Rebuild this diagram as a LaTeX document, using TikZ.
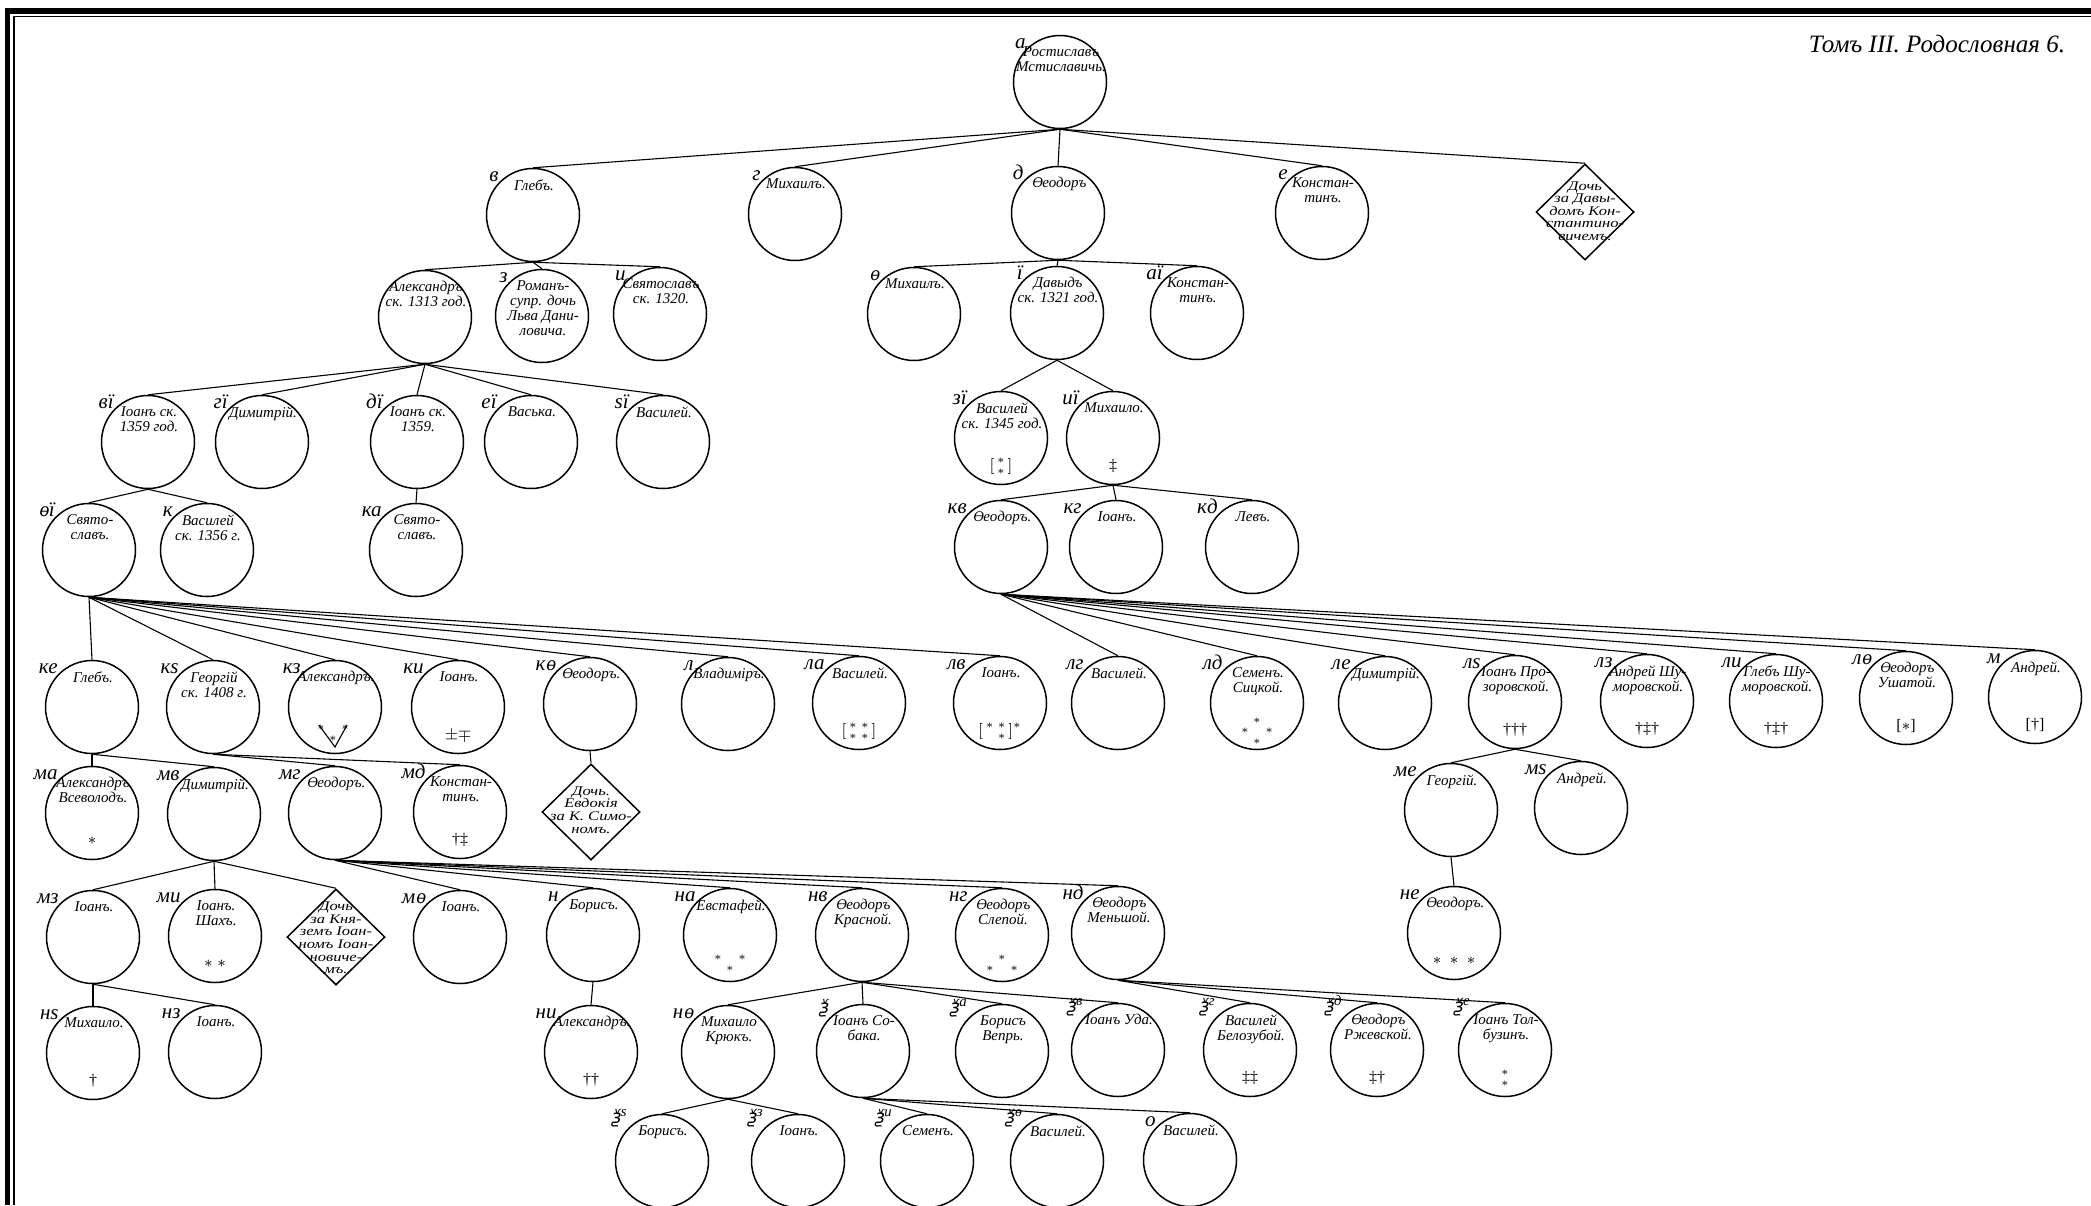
\documentclass[tikz,border=0pt]{standalone}
\usepackage{fontspec}
\usepackage{amsmath}
\setmainfont{Liberation Serif}
\newfontfamily\oldf{DejaVu Serif}[Scale=0.88,FakeSlant=0.18]
\newfontfamily\ksif{DejaVu Sans}[Scale=0.9,FakeSlant=0.18]
\newfontfamily\widef{Liberation Serif}[FakeStretch=1.25]
\usetikzlibrary{shapes.geometric,calc}
\newcommand\myFita{{\oldf\upshape Ѳ}}
\newcommand\myfita{{\oldf\upshape ѳ}}
\newcommand\myksi{{\ksif\upshape ѯ}}
\newcommand\brtwo{$\left[\begin{smallmatrix}*\\ *\end{smallmatrix}\right]$}
\newcommand\brfour{$\left[\begin{smallmatrix}*&*\\ *&*\end{smallmatrix}\right]$}
\newcommand\brthree{$\left[\begin{smallmatrix}*&*\\ &*\end{smallmatrix}\right]^{*}$}
\newcommand\fourstar{$\begin{smallmatrix}&*&\\ *&&*\\ &*&\end{smallmatrix}$}
\newcommand\threestar{$\begin{smallmatrix}*&&*\\ &*&\end{smallmatrix}$}
\newcommand\threestarb{$\begin{smallmatrix}&*&\\ *&&*\end{smallmatrix}$}
\newcommand\twostack{$\begin{smallmatrix}*\\ *\end{smallmatrix}$}
\newcommand\pp[5]{%
  \node[pc] (#1) at (#2) {};
  \node[lab] at ($(#1.center)+(-34,-33)$) {#3};
  \node[nm] at ($(#1.center)+(1,-36)$) {#4};
  \node[sy] at ($(#1.center)+(0,28)$) {#5};
}
\begin{document}
\begin{tikzpicture}[x=0.5pt,y=-0.5pt,
  pc/.style={circle,draw,line width=0.75pt,minimum size=46.5pt,inner sep=0pt},
  dm/.style={diamond,draw,line width=0.75pt,minimum width=49pt,minimum height=48pt,inner sep=0pt},
  lab/.style={anchor=south east,inner sep=0pt,font=\fontsize{10.5}{11}\selectfont\itshape},
  nm/.style={anchor=north,inner sep=0pt,align=center,font=\fontsize{7.5}{7.5}\selectfont\itshape},
  dtx/.style={inner sep=0pt,align=center,font=\widef\fontsize{6.6}{6.3}\selectfont\itshape},
  sy/.style={inner sep=0pt,font=\fontsize{8}{8}\selectfont},
  ln/.style={line width=0.55pt},
  ttl/.style={inner sep=0pt,font=\fontsize{12.5}{13}\selectfont\itshape}]
\useasboundingbox (0,0) rectangle (2091,1205);
\fill[white] (0,0) rectangle (2091,1205);
% frame
\draw[line width=2.6pt] (7.5,1205) -- (7.5,11) -- (2091,11);
\draw[line width=0.6pt] (14,1205) -- (14,16.5) -- (2091,16.5);
\node[ttl] (title) at (1937,44) {Томъ III. Родословная 6.};
% row 1-2
\pp{n1}{1060,82}{а}{Ростиславъ\\Мстиславичь.}{}
\pp{n2}{533,215}{в}{Глебъ.}{}
\pp{n3}{795,214}{г}{Михаилъ.}{}
\pp{n4}{1058,213}{д}{\myFita еодоръ}{}
\pp{n5}{1322,213}{е}{Констан-\\тинъ.}{}
\node[dm] (dA) at (1585,212) {};
\node[dtx] (tA) at (1585,211) {Дочь\\за Давы-\\домъ Кон-\\стантино-\\вичемъ.};
% row 3
\pp{n6}{425,317}{}{Александръ\\ск. 1313 год.}{}
\pp{n7}{542,316}{з}{Романъ-\\супр. дочь\\Льва Дани-\\ловича.}{}
\pp{n8}{660,314}{и}{Святославъ\\ск. 1320.}{}
\pp{n9}{914,314}{\myfita}{Михаилъ.}{}
\pp{n10}{1057,313}{ї}{Давыдъ\\ск. 1321 год.}{}
\pp{n11}{1197,313}{аї}{Констан-\\тинъ.}{}
% row 4
\pp{n12}{148,442}{вї}{Іоанъ ск.\\1359 год.}{}
\pp{n13}{262,442}{гї}{Димитрій.}{}
\pp{n14}{417,442}{дї}{Іоанъ ск.\\1359.}{}
\pp{n15}{531,442}{еї}{Васька.}{}
\pp{n16}{663,442}{ѕї}{Василей.}{}
\pp{n17}{1001,438}{зї}{Василей\\ск. 1345 год.}{\brtwo}
\pp{n18}{1113,438}{иї}{Михаило.}{‡}
% row 5
\pp{n19}{89,550}{\myfita ї}{Свято-\\славъ.}{}
\pp{n20}{207,550}{к}{Василей\\ск. 1356 г.}{}
\pp{n21}{416,550}{ка}{Свято-\\славъ.}{}
\pp{n22}{1001,547}{кв}{\myFita еодоръ.}{}
\pp{n23}{1116,547}{кг}{Іоанъ.}{}
\pp{n24}{1252,547}{кд}{Левъ.}{}
% row 6
\pp{n25}{92,707}{ке}{Глебъ.}{}
\pp{n26}{213,707}{кѕ}{Георгій\\ск. 1408 г.}{}
\pp{n27}{335,707}{кз}{Александръ.}{}
\pp{n28}{458,707}{ки}{Іоанъ.}{$\pm\mp$}
\pp{n29}{590,704}{к\myfita}{\myFita еодоръ.}{}
\pp{n30}{728,704}{л}{Владиміръ.}{}
\pp{n31}{859,703}{ла}{Василей.}{\brfour}
\pp{n32}{1000,703}{лв}{Іоанъ.}{\brthree}
\pp{n33}{1118,703}{лг}{Василей.}{}
\pp{n34}{1257,703}{лд}{Семенъ.\\Сицкой.}{\fourstar}
\pp{n35}{1385,703}{ле}{Димитрій.}{}
\pp{n36}{1515,702}{лѕ}{Іоанъ Про-\\зоровской.}{†††}
\pp{n37}{1647,701}{лз}{Андрей Шу-\\моровской.}{†‡†}
\pp{n38}{1776,701}{ли}{Глебъ Шу-\\моровской.}{†‡†}
\pp{n39}{1906,698}{л\myfita}{\myFita еодоръ\\Ушатой.}{[$*$]}
\pp{n40}{2035,697}{м}{Андрей.}{[†]}
\draw[ln] ($(n27.center)+(-16,18)$) -- ($(n27.center)+(0,40)$) -- ($(n27.center)+(12,18)$);
\node[sy] (s27) at ($(n27.center)+(-2,26)$) {\threestar};
% row 7
\pp{n41}{92,813}{ма}{Александръ\\Всеволодъ.}{$*$}
\pp{n42}{214,814}{мв}{Димитрій.}{}
\pp{n43}{335,813}{мг}{\myFita еодоръ.}{}
\pp{n44}{460,812}{мд}{Констан-\\тинъ.}{†‡}
\node[dm] (dB) at (591,812) {};
\node[dtx] (tB) at (591,810) {Дочь.\\Евдокія\\за К. Симо-\\номъ.};
\pp{n45}{1451,810}{ме}{Георгій.}{}
\pp{n46}{1581,808}{мѕ}{Андрей.}{}
% row 8
\pp{n47}{93,937}{мз}{Іоанъ.}{}
\pp{n48}{215,936}{ми}{Іоанъ.\\Шахъ.}{$*\;*$}
\node[dm] (dC) at (336,937) {};
\node[dtx] (tC) at (336,938) {Дочь\\за Кня-\\земъ Іоан-\\номъ Іоан-\\новиче-\\мъ.};
\pp{n49}{460,937}{м\myfita}{Іоанъ.}{}
\pp{n50}{593,935}{н}{Борисъ.}{}
\pp{n51}{730,935}{на}{Евстафей.}{\threestar}
\pp{n52}{862,935}{нв}{\myFita еодоръ\\Красной.}{}
\pp{n53}{1002,935}{нг}{\myFita еодоръ\\Слепой.}{\threestarb}
\pp{n54}{1118,933}{нд}{\myFita еодоръ\\Меньшой.}{}
\pp{n55}{1454,933}{не}{\myFita еодоръ.}{$*\;*\;*$}
% row 9
\pp{n56}{93,1053}{нѕ}{Михаило.}{†}
\pp{n57}{215,1052}{нз}{Іоанъ.}{}
\pp{n58}{591,1052}{ни}{Александръ.}{††}
\pp{n59}{728,1052}{н\myfita}{Михаило\\Крюкъ.}{}
\pp{n60}{863,1051}{\myksi}{Іоанъ Со-\\бака.}{}
\pp{n61}{1002,1051}{\myksi\textsuperscript{а}}{Борисъ\\Вепрь.}{}
\pp{n62}{1118,1050}{\myksi\textsuperscript{в}}{Іоанъ Уда.}{}
\pp{n63}{1250,1050}{\myksi\textsuperscript{г}}{Василей\\Белозубой.}{‡‡}
\pp{n64}{1377,1050}{\myksi\textsuperscript{д}}{\myFita еодоръ\\Ржевской.}{‡†}
\pp{n65}{1505,1050}{\myksi\textsuperscript{е}}{Іоанъ Тол-\\бузинъ.}{\twostack}
% row 10
\pp{n66}{662,1161}{\myksi\textsuperscript{ѕ}}{Борисъ.}{}
\pp{n67}{798,1161}{\myksi\textsuperscript{з}}{Іоанъ.}{}
\pp{n68}{927,1161}{\myksi\textsuperscript{и}}{Семенъ.}{}
\pp{n69}{1057,1161}{\myksi\textsuperscript{\myfita}}{Василей.}{}
\pp{n70}{1190,1160}{о}{Василей.}{}
% connectors
\foreach \c in {n2,n3,n4,n5,dA} \draw[ln] (n1.south) -- (\c.north);
\foreach \c in {n6,n7,n8} \draw[ln] (n2.south) -- (\c.north);
\foreach \c in {n9,n10,n11} \draw[ln] (n4.south) -- (\c.north);
\foreach \c in {n12,n13,n14,n15,n16} \draw[ln] (n6.south) -- (\c.north);
\foreach \c in {n17,n18} \draw[ln] (n10.south) -- (\c.north);
\foreach \c in {n19,n20} \draw[ln] (n12.south) -- (\c.north);
\draw[ln] (n14.south) -- (n21.north);
\foreach \c in {n22,n23,n24} \draw[ln] (n18.south) -- (\c.north);
\foreach \c in {n25,n26,n27,n28,n29,n30,n31,n32} \draw[ln] (n19.south) -- (\c.north);
\foreach \c in {n33,n34,n35,n36,n37,n38,n39,n40} \draw[ln] (n22.south) -- (\c.north);
\foreach \c in {n41,n42} \draw[ln] (n25.south) -- (\c.north);
\foreach \c in {n43,n44} \draw[ln] (n26.south) -- (\c.north);
\draw[ln] (n29.south) -- (dB.north);
\foreach \c in {n47,n48,dC} \draw[ln] (n42.south) -- (\c.north);
\foreach \c in {n49,n50,n51,n52,n53,n54} \draw[ln] (n43.south) -- (\c.north);
\foreach \c in {n45,n46} \draw[ln] (n36.south) -- (\c.north);
\draw[ln] (n45.south) -- (n55.north);
\foreach \c in {n56,n57} \draw[ln] (n47.south) -- (\c.north);
\draw[ln] (n50.south) -- (n58.north);
\foreach \c in {n59,n60,n61,n62} \draw[ln] (n52.south) -- (\c.north);
\foreach \c in {n63,n64,n65} \draw[ln] (n54.south) -- (\c.north);
\foreach \c in {n66,n67} \draw[ln] (n59.south) -- (\c.north);
\foreach \c in {n68,n69,n70} \draw[ln] (n60.south) -- (\c.north);
\end{tikzpicture}
\end{document}
